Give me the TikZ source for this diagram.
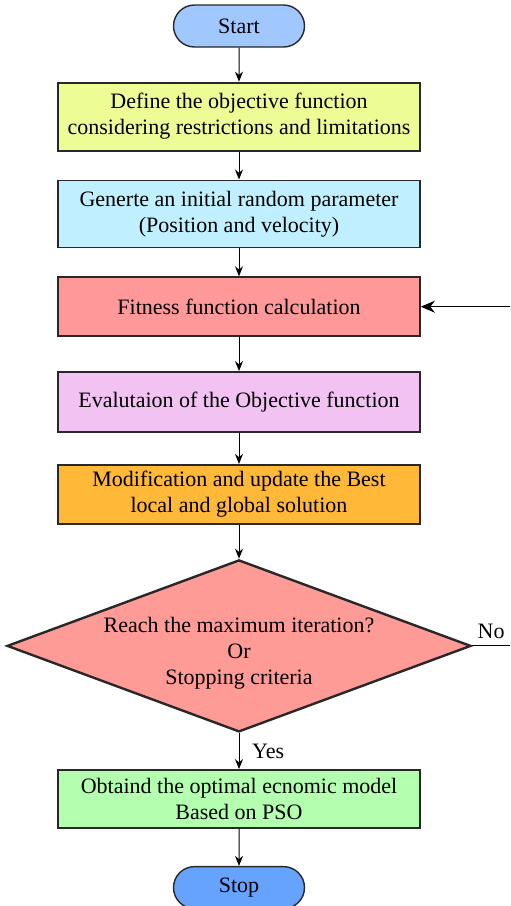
\documentclass[tikz,border=0pt]{standalone}
\usepackage{fontspec}
\setmainfont{Liberation Serif}
\usetikzlibrary{positioning,shapes.misc,shapes.geometric,arrows.meta}

\definecolor{startcol}{RGB}{160,200,255}
\definecolor{stopcol}{RGB}{102,163,255}
\definecolor{definecol}{RGB}{238,252,150}
\definecolor{gencol}{RGB}{192,240,255}
\definecolor{fitcol}{RGB}{255,153,153}
\definecolor{evalcol}{RGB}{242,194,242}
\definecolor{modcol}{RGB}{255,184,56}
\definecolor{deccol}{RGB}{255,155,150}
\definecolor{optcol}{RGB}{180,255,175}
\definecolor{edgecol}{RGB}{40,40,40}

\begin{document}
\begin{tikzpicture}[node distance=16pt, font=\fontsize{11}{13}\selectfont,
	term node/.style={rounded rectangle,draw=edgecol,line width=0.7pt,minimum width=65.5pt,minimum height=21pt,inner sep=0pt},
	box node/.style={rectangle,draw=edgecol,line width=0.9pt,minimum width=181pt,align=center,inner sep=0pt},
	decision node/.style={diamond,draw=edgecol,line width=1.2pt,aspect=2.7,minimum width=232pt,minimum height=86pt,inner sep=0pt},
	every edge/.style={draw,line width=0.5pt,-{Stealth[length=5pt,width=4pt]}}]
	
	\useasboundingbox (0,0) rectangle (255pt,-453pt);
	
	\node[term node,fill=startcol] (1) at (119.5pt,-13pt) {Start};
	\node[box node,fill=definecol,minimum height=34pt] (2) [below=17pt of 1] {Define the objective function\\considering restrictions and limitations};
	\node[box node,fill=gencol,minimum height=33.5pt] (3) [below=14pt of 2] {Generte an initial random parameter\\(Position and velocity)};
	\node[box node,fill=fitcol,minimum height=29.5pt] (4) [below=14pt of 3] {Fitness function calculation};
	\node[box node,fill=evalcol,minimum height=30pt] (5) [below=17pt of 4] {Evalutaion of the Objective function};
	\node[box node,fill=modcol,minimum height=29.5pt] (6) [below=15.5pt of 5] {Modification and update the Best\\local and global solution};
	\node[decision node,fill=deccol] (7) [below=17pt of 6] {};
	\node[align=center,inner sep=0pt] (7t) at ([yshift=-3.5pt]7.center) {Reach the maximum iteration?\\Or\\Stopping criteria};
	\node[box node,fill=optcol,minimum height=29pt] (8) [below=18pt of 7] {Obtaind the optimal ecnomic model\\Based on PSO};
	\node[term node,fill=stopcol] (9) [below=18.5pt of 8] {Stop};
	
	\coordinate (back) at (255pt,0);
	
	\path (1) edge (2)
	(2) edge (3)
	(3) edge (4)
	(4) edge (5)
	(5) edge (6)
	(6) edge (7)
	(7) edge node[right,xshift=3pt] {Yes} (8)
	(8) edge (9);
	
	\draw[line width=0.5pt] (7.east) -- node[above] {No} (7.east -| back);
	\draw[line width=0.5pt,-{Stealth[length=7pt,width=6pt]}] (4.east -| back) -- (4.east);
\end{tikzpicture}
\end{document}
